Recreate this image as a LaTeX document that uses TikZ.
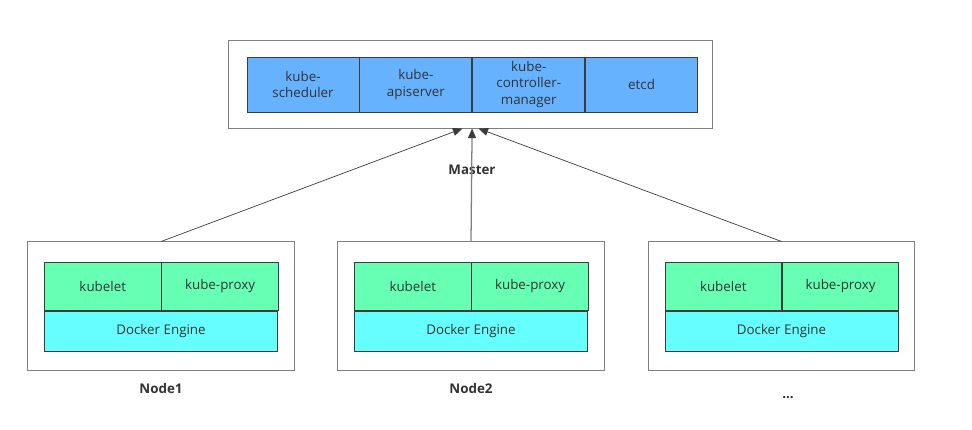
\documentclass[tikz,border=0pt]{standalone}
\usepackage{fontspec}
\setmainfont{Open Sans}
\usetikzlibrary{positioning,arrows.meta}
\definecolor{masterblue}{HTML}{66B2FF}
\definecolor{kubegreen}{HTML}{66FFB3}
\definecolor{dockercyan}{HTML}{66FFFF}
\definecolor{boxgray}{HTML}{7F7F7F}
\definecolor{edgedark}{HTML}{3C3C3C}
\definecolor{textgray}{HTML}{333333}
\tikzstyle{outerbox} = [rectangle, draw = boxgray, line width = 0.7pt, fill = white, minimum width = 6.65cm, minimum height = 3.2cm]
\tikzstyle{mastercell} = [rectangle, draw = edgedark, line width = 0.6pt, fill = masterblue, minimum width = 2.8cm, minimum height = 1.375cm, inner sep = 0pt, text centered, align = center, text = textgray, font = \fontsize{9.5}{11.5}\selectfont]
\tikzstyle{kubecell} = [rectangle, draw = edgedark, line width = 0.6pt, fill = kubegreen, minimum width = 2.9125cm, minimum height = 1.2cm, inner sep = 0pt, text centered, text = textgray, font = \fontsize{9.5}{11.5}\selectfont]
\tikzstyle{dockercell} = [rectangle, draw = edgedark, line width = 0.6pt, fill = dockercyan, minimum width = 5.825cm, minimum height = 1cm, inner sep = 0pt, text centered, text = textgray, font = \fontsize{9.5}{11.5}\selectfont]
\tikzstyle{boxlabel} = [text = textgray, font = \fontsize{9.5}{11.5}\selectfont\bfseries]
\tikzstyle{arrow} = [line width = 0.5pt, draw = edgedark, -{Triangle[length=2.4mm,width=2mm,fill=edgedark]}]
\tikzstyle{midarrow} = [line width = 0.9pt, draw = boxgray, -{Triangle[length=2.4mm,width=2mm,fill=edgedark,color=edgedark]}]

\begin{document}
\begin{tikzpicture}[x = 0.025cm, y = -0.025cm]
	\useasboundingbox (0,0) rectangle (972,429);
	
	% master
	\node[outerbox, minimum width = 12.075cm, minimum height = 2.175cm](master) at (470.5,84.5){};
	\node[mastercell](scheduler) at (303,84.5){kube-\\scheduler};
	\node[mastercell, right = 0pt of scheduler](apiserver){kube-\\apiserver};
	\node[mastercell, right = 0pt of apiserver](controller){kube-\\controller-\\manager};
	\node[mastercell, right = 0pt of controller](etcd){etcd};
	\node[boxlabel](master label) at (472,170){Master};
	
	% nodes
	\node[outerbox](node1) at (161,306){};
	\node[dockercell](docker1) at (161,331){Docker Engine};
	\node[kubecell, anchor = south west](kubelet1) at (docker1.north west){kubelet};
	\node[kubecell, right = 0pt of kubelet1](proxy1){kube-proxy};
	\node[boxlabel](node1 label) at (161,388){Node1};
	
	\node[outerbox](node2) at (471,306){};
	\node[dockercell](docker2) at (471,331){Docker Engine};
	\node[kubecell, anchor = south west](kubelet2) at (docker2.north west){kubelet};
	\node[kubecell, right = 0pt of kubelet2](proxy2){kube-proxy};
	\node[boxlabel](node2 label) at (471,388){Node2};
	
	\node[outerbox](node3) at (781.5,306){};
	\node[dockercell](docker3) at (781.5,331){Docker Engine};
	\node[kubecell, anchor = south west](kubelet3) at (docker3.north west){kubelet};
	\node[kubecell, right = 0pt of kubelet3](proxy3){kube-proxy};
	\node[boxlabel, anchor = base](node3 label) at (788,398){...};
	
	\draw [arrow](node1.north)--([xshift = -0.2cm]master.south);
	\draw [midarrow](node2.north)--([xshift = 0.04cm]master.south);
	\draw [arrow](node3.north)--([xshift = 0.2cm]master.south);
	
\end{tikzpicture}
\end{document}
